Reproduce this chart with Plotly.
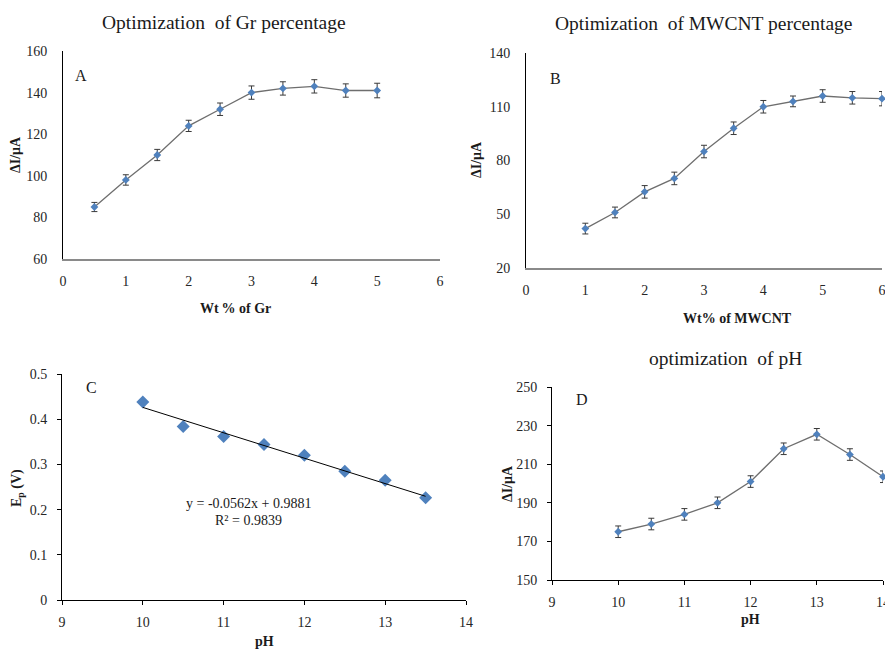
import plotly.graph_objects as go

# ---------------- data ----------------
gr_wt = [0.5, 1, 1.5, 2, 2.5, 3, 3.5, 4, 4.5, 5]
gr_dI = [85, 98, 110, 124, 132, 140, 142, 143, 141, 141]
gr_err = [2.2, 2.5, 2.7, 2.7, 3, 3.2, 3.2, 3.2, 3.2, 3.5]

mw_wt = [1, 1.5, 2, 2.5, 3, 3.5, 4, 4.5, 5, 5.5, 6]
mw_dI = [42, 51, 62.5, 70, 85, 98, 110, 113, 116, 115, 114.5]
mw_err = [3, 3, 3.5, 3.5, 3.5, 3.5, 3.5, 3, 3.5, 3.5, 4]

ph_c = [10, 10.5, 11, 11.5, 12, 12.5, 13, 13.5]
ep_c = [0.438, 0.384, 0.362, 0.344, 0.320, 0.285, 0.265, 0.226]
fit_slope = -0.0562
fit_intercept = 0.9881
fit_r2 = 0.9839

ph_d = [10, 10.5, 11, 11.5, 12, 12.5, 13, 13.5, 14]
dI_d = [175, 179, 184, 190, 201, 218, 225.5, 215, 203.5]
d_err = [3, 3, 3, 3, 3, 3, 3, 3, 3]

yticks_a = [60, 80, 100, 120, 140, 160]
yticks_b = [20, 50, 80, 110, 140]
yticks_c = [0, 0.1, 0.2, 0.3, 0.4, 0.5]
yticks_d = [150, 170, 190, 210, 230, 250]

# ---------------- style ----------------
W, H = 885, 649
FONT = "Liberation Serif, Times New Roman, Times, serif"
BLUE = "#4f81bd"
LINE = "#6e6e6e"
ERR = "#3a3a3a"


def px(x):
    return x / W


def py(y):
    return 1 - y / H


fig = go.Figure()


def line_trace(x, y, e, xa, ya):
    fig.add_trace(go.Scatter(
        x=x, y=y, mode="lines+markers",
        line=dict(color=LINE, width=1.3),
        marker=dict(color=BLUE, size=6, symbol="diamond"),
        error_y=dict(type="data", array=e, color=ERR, thickness=1, width=3),
        xaxis=xa, yaxis=ya, cliponaxis=False, showlegend=False))


line_trace(gr_wt, gr_dI, gr_err, "x", "y")
line_trace(mw_wt, mw_dI, mw_err, "x2", "y2")

# panel C: points + linear trendline from fit parameters
fig.add_trace(go.Scatter(
    x=ph_c, y=ep_c, mode="markers",
    marker=dict(color=BLUE, size=10, symbol="diamond"),
    xaxis="x3", yaxis="y3", cliponaxis=False, showlegend=False))
fit_x = [ph_c[0], ph_c[-1]]
fit_y = [fit_slope * v + fit_intercept for v in fit_x]
fig.add_trace(go.Scatter(
    x=fit_x, y=fit_y, mode="lines", line=dict(color="#000000", width=1),
    xaxis="x3", yaxis="y3", showlegend=False))

line_trace(ph_d, dI_d, d_err, "x4", "y4")

tickfont = dict(family=FONT, size=14, color="#262626")


def xaxis(domain, rng, anchor, grayline, ticks):
    return dict(domain=domain, range=rng, dtick=1, anchor=anchor,
                showgrid=False, zeroline=False, showline=True,
                automargin=False,
                linecolor="#8a8a8a" if grayline else "#000000",
                linewidth=1.6 if grayline else 1,
                ticks="outside" if ticks else "", ticklen=4,
                tickcolor="#000000", tickfont=tickfont,
                ticklabeloverflow="allow",
                ticklabelstandoff=5 if ticks else 8, fixedrange=True)


def yaxis(domain, rng, tv, anchor, ticks):
    return dict(domain=domain, range=rng, tickvals=tv,
                ticktext=[("%g" % v) for v in tv], anchor=anchor,
                showgrid=False, zeroline=False, showline=True,
                automargin=False,
                linecolor="#000000", linewidth=1,
                ticks="outside" if ticks else "", ticklen=4,
                tickcolor="#000000", tickfont=tickfont,
                ticklabeloverflow="allow",
                ticklabelstandoff=7 if ticks else 12, fixedrange=True)


fig.update_layout(
    width=W, height=H,
    margin=dict(l=0, r=0, t=0, b=0, pad=0, autoexpand=False),
    paper_bgcolor="white", plot_bgcolor="white",
    xaxis=xaxis([px(63), px(440)], [0, 6], "y", True, False),
    yaxis=yaxis([py(259), py(51)], [60, 160], yticks_a, "x", False),
    xaxis2=xaxis([px(526), px(882)], [0, 6], "y2", True, False),
    yaxis2=yaxis([py(268), py(53)], [20, 140], yticks_b, "x2", False),
    xaxis3=xaxis([px(62), px(466)], [9, 14], "y3", False, True),
    yaxis3=yaxis([py(600), py(374)], [0, 0.5], yticks_c, "x3", True),
    xaxis4=xaxis([px(552), px(883)], [9, 14], "y4", False, True),
    yaxis4=yaxis([py(580), py(387)], [150, 250], yticks_d, "x4", True),
)

ann = []


def text(x, y, s, size=14, bold=False, angle=0):
    if bold:
        s = "<b>" + s + "</b>"
    ann.append(dict(x=px(x), y=py(y), xref="paper", yref="paper", text=s,
                    showarrow=False, textangle=angle,
                    font=dict(family=FONT, size=size, color="#1a1a1a"),
                    xanchor="center", yanchor="middle"))


# titles
text(224, 22, "Optimization\u00a0 of Gr percentage", size=19.5)
text(703, 24, "Optimization\u00a0 of MWCNT percentage", size=19.5)
text(725, 358, "optimization\u00a0 of pH", size=19.5)
# axis titles
text(235, 308, "Wt\u2009% of Gr", bold=True)
text(737, 318, "Wt% of MWCNT", bold=True)
text(264, 641, "pH", bold=True)
text(750, 619, "pH", bold=True)
text(16, 155, "\u0394I/\u03bcA", bold=True, angle=-90)
text(476, 160, "\u0394I/\u03bcA", bold=True, angle=-90)
text(17, 488, "E<sub>p</sub> (V)", bold=True, angle=-90)
text(507, 483, "\u0394I/\u03bcA", bold=True, angle=-90)
# panel letters
text(81, 75, "A", size=16)
text(555, 79, "B", size=16)
text(91, 387, "C", size=16)
text(582, 399, "D", size=16)
# fit equation
text(248, 503, "y = %.4fx + %.4f" % (fit_slope, fit_intercept))
text(248, 520, "R\u00b2 = %.4f" % fit_r2)

fig.update_layout(annotations=ann)
fig.write_html(
    "out.html",
    config={"displayModeBar": False},
    post_script="document.body.style.margin='0';"
                "document.body.style.overflow='hidden';")
